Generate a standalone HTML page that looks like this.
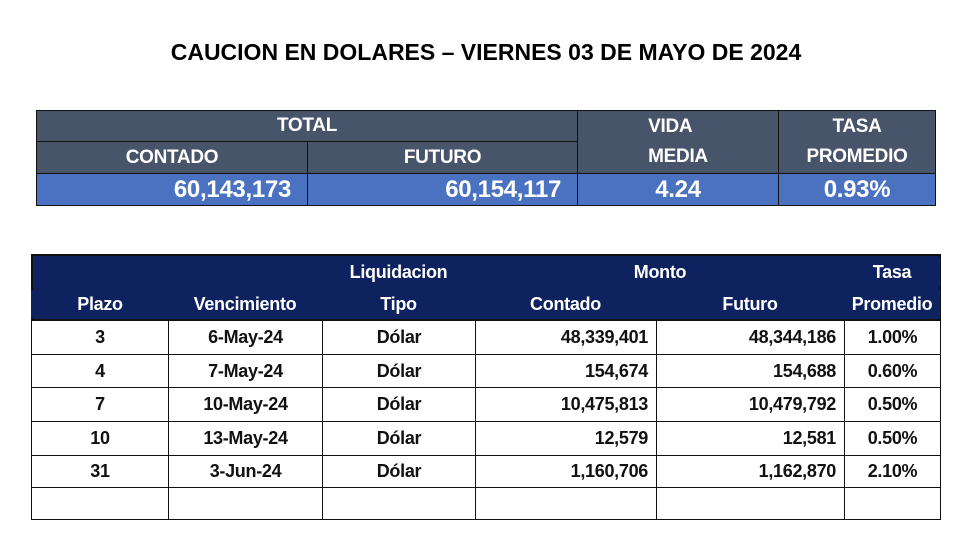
<!DOCTYPE html>
<html><head><meta charset="utf-8"><style>
body{margin:0;width:980px;height:557px;background:#fff;position:relative;overflow:hidden;font-family:"Liberation Sans",sans-serif}
.c{position:absolute;box-sizing:border-box;display:flex;align-items:center;justify-content:center;font-weight:bold}
.n{font-family:"Liberation Sans Narrow","Liberation Sans",sans-serif;letter-spacing:-0.3px}
.hd{background:#48546a;color:#fff;border:1.5px solid #111;font-size:19px}
.v{background:#4a72c0;color:#fff;border:1.5px solid #111;font-size:24px}
.bh{background:#0e2260;color:#fff;font-size:18px;font-weight:bold}
.bc{border:1px solid #111;background:#fff;color:#111;font-size:18px}
.r{justify-content:flex-end;padding-right:8px}
</style></head><body>
<div class="c" style="left:0;top:36px;width:972px;height:32px;font-size:23px;color:#000">CAUCION EN DOLARES – VIERNES 03 DE MAYO DE 2024</div>

<div>
<div class="c hd n" style="left:36px;top:110px;width:542px;height:32px">TOTAL</div>
<div class="c hd n" style="left:36px;top:141px;width:272px;height:33px">CONTADO</div>
<div class="c hd n" style="left:307px;top:141px;width:271px;height:33px">FUTURO</div>
<div class="c hd n" style="left:577px;top:110px;width:202px;height:64px;flex-direction:column;line-height:30px">VIDA<br>MEDIA</div>
<div class="c hd n" style="left:778px;top:110px;width:158px;height:64px;flex-direction:column;line-height:30px;text-align:center">TASA<br>PROMEDIO</div>
<div class="c v n r" style="left:36px;top:173px;width:272px;height:33px;padding-right:16px">60,143,173</div>
<div class="c v n r" style="left:307px;top:173px;width:271px;height:33px;padding-right:16px">60,154,117</div>
<div class="c v n" style="left:577px;top:173px;width:202px;height:33px">4.24</div>
<div class="c v n" style="left:778px;top:173px;width:158px;height:33px">0.93%</div>
</div>

<div>
<div style="position:absolute;left:31px;top:254px;width:910px;height:67px;background:#0e2260;border:2px solid #111;box-sizing:border-box"></div>
<div class="c bh n" style="left:322px;top:258px;width:153px;height:28px">Liquidacion</div>
<div class="c bh n" style="left:570px;top:258px;width:180px;height:28px">Monto</div>
<div class="c bh n" style="left:844px;top:258px;width:96px;height:28px">Tasa</div>
<div class="c bh n" style="left:31px;top:290px;width:138px;height:28px">Plazo</div>
<div class="c bh n" style="left:168px;top:290px;width:154px;height:28px">Vencimiento</div>
<div class="c bh n" style="left:322px;top:290px;width:153px;height:28px">Tipo</div>
<div class="c bh n" style="left:475px;top:290px;width:181px;height:28px">Contado</div>
<div class="c bh n" style="left:656px;top:290px;width:188px;height:28px">Futuro</div>
<div class="c bh n" style="left:844px;top:290px;width:96px;height:28px">Promedio</div>
<div id="rows"></div>
</div>
<script>
const plazos=["3","4","7","10","31",""];
const venc=["6-May-24","7-May-24","10-May-24","13-May-24","3-Jun-24",""];
const tipos=["Dólar","Dólar","Dólar","Dólar","Dólar",""];
const contado=["48,339,401","154,674","10,475,813","12,579","1,160,706",""];
const futuro=["48,344,186","154,688","10,479,792","12,581","1,162,870",""];
const tasas=["1.00%","0.60%","0.50%","0.50%","2.10%",""];
const cols=[[31,138,""],[168,155,""],[322,154,""],[475,182," r"],[656,189," r"],[844,97,""]];
const tops=[320,354,387,421,455,487,519];
const host=document.getElementById('rows');
for(let i=0;i<plazos.length;i++){
  const vals=[plazos[i],venc[i],tipos[i],contado[i],futuro[i],tasas[i]];
  const names=['plazo','vencimiento','tipo','contado','futuro','tasa'];
  for(let j=0;j<6;j++){
    const d=document.createElement('div');
    d.className='c bc n'+cols[j][2];
    d.style.left=cols[j][0]+'px';d.style.width=cols[j][1]+'px';
    d.style.top=tops[i]+'px';d.style.height=(tops[i+1]-tops[i]+1)+'px';
    d.textContent=vals[j];
    
    
    host.appendChild(d);
  }
}
</script>
</body></html>
